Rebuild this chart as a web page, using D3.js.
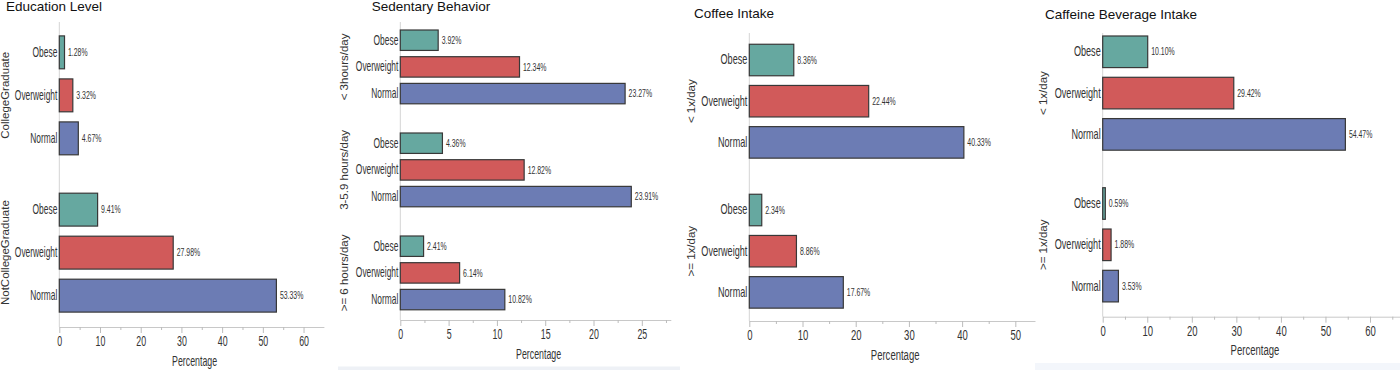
<!DOCTYPE html>
<html>
<head>
<meta charset="utf-8">
<script src="https://cdn.jsdelivr.net/npm/d3@7"></script>
<style>
body{margin:0;background:#fff;}
svg{display:block;font-family:"Liberation Sans",Arial,sans-serif;}
</style>
</head>
<body>
<div id="vis-container"></div>
<script>
//data
let categories = ["Obese","Overweight","Normal"];

let eduGroups = ["CollegeGraduate","NotCollegeGraduate"];
let eduValues = [[1.28,3.32,4.67],[9.41,27.98,53.33]];

let sedGroups = ["< 3hours/day","3-5.9 hours/day",">= 6 hours/day"];
let sedValues = [[3.92,12.34,23.27],[4.36,12.82,23.91],[2.41,6.14,10.82]];

let coffeeGroups = ["< 1x/day",">= 1x/day"];
let coffeeValues = [[8.36,22.44,40.33],[2.34,8.86,17.67]];

let caffGroups = ["< 1x/day",">= 1x/day"];
let caffValues = [[10.10,29.42,54.47],[0.59,1.88,3.53]];

let titles = ["Education Level","Sedentary Behavior","Coffee Intake","Caffeine Beverage Intake"];
let xMax = [65,28,53.7,67];
let majorTicks = [[0,10,20,30,40,50,60],[0,5,10,15,20,25],[0,10,20,30,40,50],[0,10,20,30,40,50,60]];
let minorTicks = [[5,15,25,35,45,55],[2.5,7.5,12.5,17.5,22.5,27.5],[5,15,25,35,45],[5,15,25,35,45,55,65]];
let xLabel = "Percentage";

let color = d3.scaleOrdinal()
  .domain(categories)
  .range(["#66a8a0","#d15a5a","#6c7cb4"]);

//panel positions
let layout = [
  {x0:59.3, x1:323.9, top:23, bottom:325, pad:0.08, axisTop:22, axisY:327, titleX:6, titleY:11, groupX:8.5, sx:0.6},
  {x0:400.3, x1:670.8, top:22, bottom:317.8, pad:0.128, axisTop:22, axisY:320, titleX:371.7, titleY:11, groupX:347.5, sx:0.6},
  {x0:749.3, x1:1035, top:31.9, bottom:320.5, pad:0.076, axisTop:33, axisY:321, titleX:694, titleY:18.3, groupX:695, sx:0.65},
  {x0:1102.7, x1:1401.2, top:23.6, bottom:314.3, pad:0.084, axisTop:33, axisY:316.7, titleX:1045, titleY:18.5, groupX:1047, sx:0.65}
];

let panels = [
  {groups:eduGroups, values:eduValues},
  {groups:sedGroups, values:sedValues},
  {groups:coffeeGroups, values:coffeeValues},
  {groups:caffGroups, values:caffValues}
];

let svg = d3.select("#vis-container")
  .append("svg")
  .attr("width", 1400)
  .attr("height", 370);

//faint panel background edges
svg.append("rect").attr("x",338).attr("y",366.5).attr("width",342).attr("height",3.5).attr("fill","#eef1f6");
svg.append("rect").attr("x",1035).attr("y",363).attr("width",365).attr("height",7).attr("fill","#f3f6fb");

panels.forEach((p,i)=>{
  let L = layout[i];
  let g = svg.append("g");

  let x = d3.scaleLinear()
    .domain([0, xMax[i]])
    .range([L.x0, L.x1]);

  let gy = d3.scaleBand()
    .domain(p.groups)
    .range([L.top, L.bottom])
    .paddingInner(L.pad);

  let inner = d3.scaleBand()
    .domain(categories)
    .range([0, gy.bandwidth()])
    .paddingInner(0.235)
    .paddingOuter(0.3);

  //title
  g.append("text")
    .attr("x", L.titleX)
    .attr("y", L.titleY)
    .attr("font-size", "13.5px")
    .attr("fill", "#111")
    .text(titles[i]);

  //vertical axis line
  g.append("line")
    .attr("x1", x(0)).attr("x2", x(0))
    .attr("y1", L.axisTop).attr("y2", L.axisY)
    .attr("stroke", "#d4d4d4");

  //bottom axis
  let xAxis = d3.axisBottom(x)
    .tickValues(majorTicks[i])
    .tickSize(6)
    .tickSizeOuter(0)
    .tickPadding(3.5);

  let xg = g.append("g")
    .attr("transform", `translate(0,${L.axisY})`)
    .call(xAxis);
  xg.select(".domain").attr("stroke", "#c8c8c8");
  xg.selectAll(".tick line").attr("stroke", "#bcbcbc");
  xg.attr("font-family", null).attr("font-size", null);
  xg.selectAll(".tick text")
    .attr("font-size", "14px")
    .attr("fill", "#333")
    .attr("transform", `scale(${L.sx+0.03},1)`);

  let minor = d3.axisBottom(x)
    .tickValues(minorTicks[i])
    .tickSize(3)
    .tickFormat("");
  let mg = g.append("g")
    .attr("transform", `translate(0,${L.axisY})`)
    .call(minor);
  mg.select(".domain").remove();
  mg.selectAll(".tick line").attr("stroke", "#bcbcbc");

  //axis label
  g.append("text")
    .attr("transform", `translate(${(L.x0+L.x1)/2+3},${L.axisY+38.7}) scale(${L.sx+0.03},1)`)
    .attr("text-anchor", "middle")
    .attr("font-size", "14px")
    .attr("fill", "#333")
    .text(xLabel);

  //groups
  p.groups.forEach((grp,j)=>{
    let gg = g.append("g")
      .attr("transform", `translate(0,${gy(grp)})`);

    let rows = categories.map((c,k)=>{return {cat:c, value:p.values[j][k]};});

    gg.selectAll("rect")
      .data(rows)
      .enter()
      .append("rect")
        .attr("x", x(0))
        .attr("y", d=>{return inner(d.cat);})
        .attr("width", d=>{return x(d.value)-x(0);})
        .attr("height", inner.bandwidth())
        .attr("fill", d=>{return color(d.cat);})
        .attr("stroke", "#383838")
        .attr("stroke-width", 1.2);

    gg.selectAll(".value-label")
      .data(rows)
      .enter()
      .append("text")
        .attr("class", "value-label")
        .attr("transform", d=>{return `translate(${x(d.value)+3.5},${inner(d.cat)+inner.bandwidth()/2}) scale(0.66,1)`;})
        .attr("dy", "0.35em")
        .attr("font-size", "10.5px")
        .attr("fill", "#333")
        .text(d=>{return d.value.toFixed(2)+"%";});

    //category labels
    let yAxis = d3.axisLeft(inner)
      .tickSize(0)
      .tickPadding(0);
    let yg = gg.append("g")
      .attr("transform", `translate(${x(0)},0)`)
      .call(yAxis);
    yg.select(".domain").remove();
    yg.attr("font-family", null).attr("font-size", null);
    yg.selectAll(".tick text")
      .attr("font-size", "14px")
      .attr("fill", "#333")
      .attr("transform", `translate(-2,0) scale(${L.sx},1)`);

    //group label
    g.append("text")
      .attr("transform", `translate(${L.groupX},${gy(grp)+gy.bandwidth()/2}) rotate(-90)`)
      .attr("text-anchor", "middle")
      .attr("font-size", "11.5px")
      .attr("fill", "#333")
      .text(grp);
  });
});
</script>
</body>
</html>
